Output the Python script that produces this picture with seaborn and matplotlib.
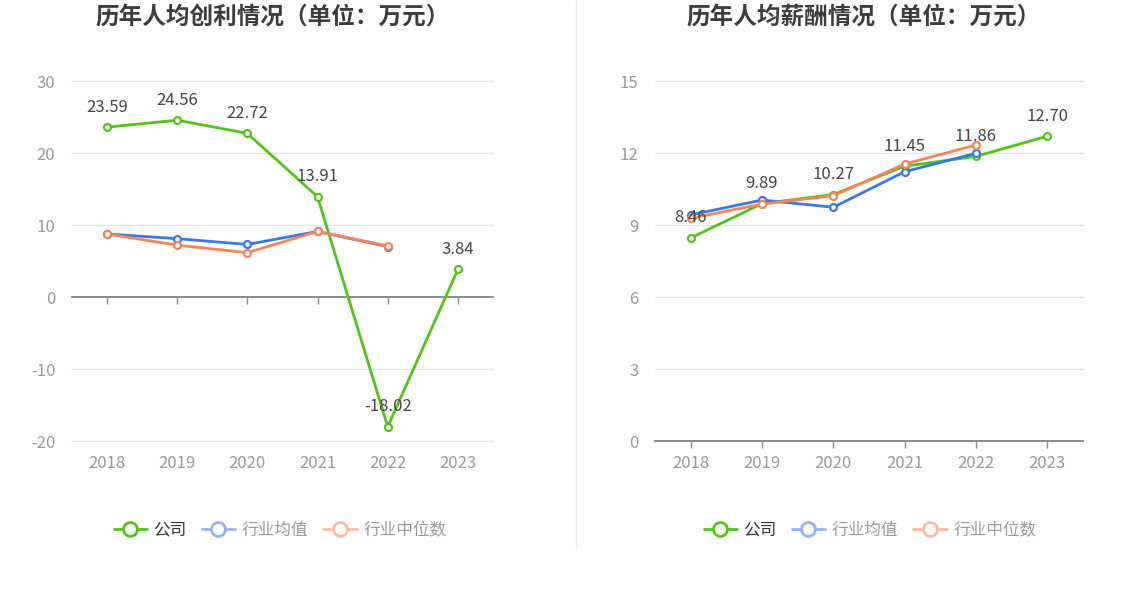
import matplotlib
matplotlib.use("Agg")
import matplotlib.pyplot as plt
from matplotlib.lines import Line2D
import seaborn as sns
import pandas as pd

# ---- data ----
years = [2018, 2019, 2020, 2021, 2022, 2023]
series_names = ["公司", "行业均值", "行业中位数"]

profit_company = [23.59, 24.56, 22.72, 13.91, -18.02, 3.84]
profit_avg = [8.75, 8.1, 7.3, 9.1, 7.0, None]
profit_median = [8.75, 7.2, 6.15, 9.1, 7.1, None]

salary_company = [8.46, 9.89, 10.27, 11.45, 11.86, 12.70]
salary_avg = [9.42, 10.04, 9.74, 11.22, 11.99, None]
salary_median = [9.28, 9.87, 10.22, 11.54, 12.33, None]

titles = ["历年人均创利情况（单位：万元）", "历年人均薪酬情况（单位：万元）"]
yticks_left = [-20, -10, 0, 10, 20, 30]
yticks_right = [0, 3, 6, 9, 12, 15]

colors = {"公司": "#52c41a", "行业均值": "#3a78e6", "行业中位数": "#f5845a"}
legend_colors = {"公司": "#52c41a", "行业均值": "#94b4f2", "行业中位数": "#f9bba2"}

sns.set_theme(style="white")
plt.rcParams['font.family'] = ['Noto Sans CJK SC', 'DejaVu Sans']
plt.rcParams['axes.unicode_minus'] = False


def make_df(company, avg, median):
    rows = []
    for name, vals in zip(series_names, [company, avg, median]):
        for y, v in zip(years, vals):
            if v is not None:
                rows.append({"year": y, "value": v, "series": name})
    return pd.DataFrame(rows)


fig = plt.figure(figsize=(11.48, 5.89), dpi=100)
ax1 = fig.add_axes([72 / 1148, 1 - 441 / 589, 421 / 1148, 360 / 589])
ax2 = fig.add_axes([655 / 1148, 1 - 441 / 589, 428 / 1148, 360 / 589])

panels = [
    (ax1, make_df(profit_company, profit_avg, profit_median), profit_company, yticks_left, 273, 280),
    (ax2, make_df(salary_company, salary_avg, salary_median), salary_company, yticks_right, 864, 870),
]

for i, (ax, df, company, yt, title_x, legend_x) in enumerate(panels):
    for name in series_names:
        sub = df[df["series"] == name]
        sns.lineplot(data=sub, x="year", y="value", ax=ax, color=colors[name],
                     linewidth=2, marker="o", markersize=5, markerfacecolor="white",
                     markeredgecolor=colors[name], markeredgewidth=1.6,
                     legend=False, zorder=3)

    # value labels for the company
    for y, v in zip(years, company):
        ax.annotate(f"{v:.2f}", (y, v), xytext=(0, 20), textcoords="offset pixels",
                    ha="center", va="center", fontsize=12, color="#464646", zorder=5)

    ax.set_xlim(years[0] - 0.5, years[-1] + 0.5)
    ax.set_ylim(yt[0], yt[-1])
    ax.set_yticks(yt)
    ax.set_yticklabels([str(t) for t in yt])
    ax.grid(axis="y", color="#e0e6f1", linewidth=1)
    ax.grid(axis="x", visible=False)
    for gl in ax.yaxis.get_gridlines():
        gl.set_clip_on(False)
    ax.set_xlabel("")
    ax.set_ylabel("")
    for s in ["top", "right", "left"]:
        ax.spines[s].set_visible(False)
    ax.spines["bottom"].set_position(("data", 0))
    ax.spines["bottom"].set_color("#8a8d94")
    ax.spines["bottom"].set_linewidth(1.4)
    ax.spines["bottom"].set_zorder(2)
    ax.set_xticks(years)
    ax.tick_params(axis="x", bottom=True, direction="out", length=5, width=1,
                   color="#8a8d94", labelbottom=False)
    ax.tick_params(axis="y", left=False, length=0, pad=12, labelsize=12, labelcolor="#9a9a9a")

    sec = ax.secondary_xaxis("bottom")
    sec.set_xticks(years)
    sec.set_xticklabels([str(y) for y in years])
    sec.spines["bottom"].set_visible(False)
    sec.tick_params(length=0, pad=10, labelsize=12, labelcolor="#9a9a9a")

    fig.text(title_x / 1148, 1 - 18 / 589, titles[i], ha="center", va="center",
             fontsize=17, fontweight="bold", color="#3d3d3d")

    handles = [Line2D([0], [0], color=legend_colors[n], linewidth=2, marker="o",
                      markersize=10, markerfacecolor="white",
                      markeredgecolor=legend_colors[n], markeredgewidth=2)
               for n in series_names]
    leg = ax.legend(handles, series_names, loc="center",
                    bbox_to_anchor=((legend_x - (72 if i == 0 else 655)) / (421 if i == 0 else 428),
                                    (441 - 530) / 360),
                    ncol=3, frameon=False, fontsize=12, handlelength=2.0,
                    handletextpad=0.4, columnspacing=0.9)
    for t, n in zip(leg.get_texts(), series_names):
        t.set_color("#333333" if n == "公司" else "#999999")

fig.add_artist(Line2D([576 / 1148, 576 / 1148], [1.0, 1 - 548 / 589],
                      color="#eeeeee", linewidth=1, transform=fig.transFigure))

fig.savefig("out.png", dpi=100, facecolor="white")
